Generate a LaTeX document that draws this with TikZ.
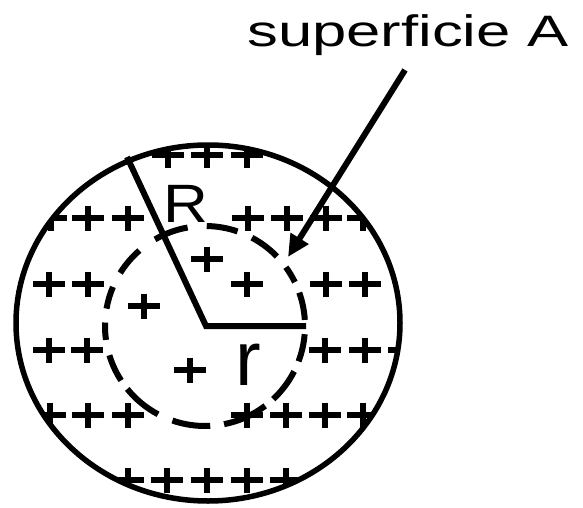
\documentclass[tikz,border=0pt]{standalone}
\usepackage{fontspec}
\setmainfont{Liberation Sans}
\usetikzlibrary{arrows.meta}
\begin{document}
\begin{tikzpicture}[x=1pt,y=-1pt,
  outline/.style={line width=5.5pt},
  radline/.style={line width=6pt, line join=miter},
  dashseg/.style={line width=6pt},
  plusline/.style={line width=5.5pt},
  pointer/.style={line width=6pt, -{Triangle[length=22pt,width=20pt]}},
  lbl/.style={inner sep=0pt, anchor=base west},
]
\useasboundingbox[fill=white] (0,0) rectangle (583,508);
\coordinate (O) at (208,323);
\coordinate (C) at (205,326);
% plus charges, clipped to the sphere
\begin{scope}
\clip (O) ellipse [x radius=192, y radius=178];
\foreach \px/\py in {168/155,207/155,247/155,
  51/218,88/218,128/218,248/218,287/218,326/218,363/218,
  207/259,
  49/284,88/284,247/284,326/284,365/284,
  144/306,
  49/350,87/350,325/350,365/350,404/350,
  190/370,
  50/415,88/415,128/415,247/415,286/415,325/415,363/415,
  128/480,167/480,207/480,247/480,286/480}
  \draw[plusline] (\px-16,\py) -- (\px+16,\py) (\px,\py-12.5) -- (\px,\py+12.5);
\end{scope}
% dashed Gaussian surface
\foreach \a/\b in {-19.5/-3.5, 4.7/20.7, 27/47, 53/79, 87/109, 118/141, 147/163,
  172/182, 190/203, 212/229, 240/260, 271/289, 298/316, 324/334}
  \draw[dashseg] ([shift={(\a:100)}]C) arc[start angle=\a, end angle=\b, radius=100];
% outer sphere
\draw[outline] (O) ellipse [x radius=192, y radius=178];
% radii
\coordinate (Rtop) at (127,157);
\coordinate (corner) at (206,326);
\coordinate (rend) at (306,326);
\draw[radline] (Rtop) -- (corner) -- (rend);
% labels
\node[lbl] (Rlab) at (163,222) {\scalebox{1.15}[1]{\fontsize{54}{54}\selectfont R}};
\node[lbl] (rlab) at (235,385) {\fontsize{77}{77}\selectfont r};
\node[lbl] (title) at (247,47) {\scalebox{1.4}[1]{\fontsize{44}{44}\selectfont superficie A}};
% pointer
\coordinate (arrowstart) at (405,70);
\coordinate (arrowtip) at (288,257);
\draw[pointer] (arrowstart) -- (arrowtip);
\end{tikzpicture}
\end{document}
